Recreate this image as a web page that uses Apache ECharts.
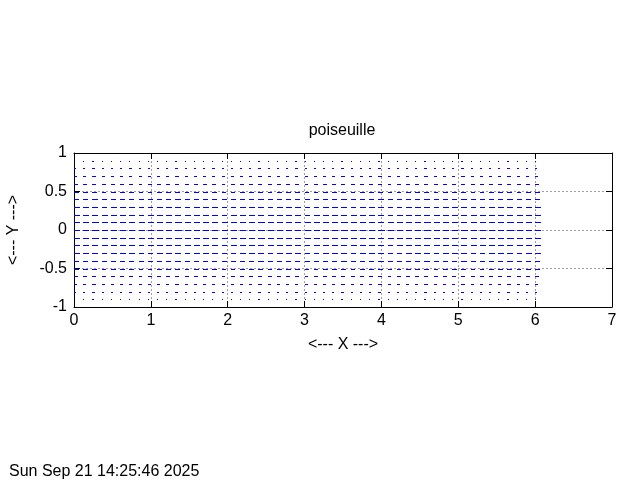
<!DOCTYPE html>
<html>
<head>
<meta charset="utf-8">
<script src="https://cdn.jsdelivr.net/npm/echarts@6/dist/echarts.min.js"></script>
<style>
html,body{margin:0;padding:0;background:#fff;}
#chart{width:640px;height:480px;}
</style>
</head>
<body>
<div id="chart"></div>
<script>
// Arrow start positions along x
var xStarts = [0, 0.12, 0.24, 0.36, 0.48, 0.6, 0.72, 0.84, 0.96, 1.08,
  1.2, 1.32, 1.44, 1.56, 1.68, 1.8, 1.92, 2.04, 2.16, 2.28,
  2.4, 2.52, 2.64, 2.76, 2.88, 3.0, 3.12, 3.24, 3.36, 3.48,
  3.6, 3.72, 3.84, 3.96, 4.08, 4.2, 4.32, 4.44, 4.56, 4.68,
  4.8, 4.92, 5.04, 5.16, 5.28, 5.4, 5.52, 5.64, 5.76, 5.88, 6.0];
// Row positions (y) and the arrow length (dx) in each row
var yRows = [-0.9, -0.8, -0.7, -0.6, -0.5, -0.4, -0.3, -0.2, -0.1, 0,
  0.1, 0.2, 0.3, 0.4, 0.5, 0.6, 0.7, 0.8, 0.9];
var dxRows = [0.015, 0.029, 0.041, 0.051, 0.06, 0.067, 0.073, 0.077, 0.079, 0.08,
  0.079, 0.077, 0.073, 0.067, 0.06, 0.051, 0.041, 0.029, 0.015];
var xTicks = [0, 1, 2, 3, 4, 5, 6, 7];
var yTicks = [-1, -0.5, 0, 0.5, 1];

var titleText = 'poiseuille';
var xName = '<--- X --->';
var yName = '<--- Y --->';
var dateText = 'Sun Sep 21 14:25:46 2025';

var data = [];
for (var r = 0; r < yRows.length; r++) {
  for (var i = 0; i < xStarts.length; i++) {
    data.push([xStarts[i], yRows[r], dxRows[r]]);
  }
}

var FONT = 'Liberation Sans, Arial, sans-serif';
var chart = echarts.init(document.getElementById('chart'), null, {renderer: 'canvas'});

var axisCommon = {
  axisLine: {show: true, onZero: false, lineStyle: {color: '#000', width: 1}},
  axisTick: {show: true, inside: true, length: 6, lineStyle: {color: '#000'}},
  splitLine: {show: false}
};

chart.setOption({
  animation: false,
  backgroundColor: '#fff',
  grid: {left: 74, right: 28, top: 153, bottom: 173, containLabel: false, outerBoundsMode: 'none'},
  graphic: [
    {type: 'text', x: 342, y: 131, style: {text: titleText, fill: '#000', font: '16px ' + FONT, textAlign: 'center', textVerticalAlign: 'middle'}},
    {type: 'text', x: 9, y: 472, style: {text: dateText, fill: '#000', font: '16px ' + FONT, textAlign: 'left', textVerticalAlign: 'middle'}}
  ],
  xAxis: [
    Object.assign({}, axisCommon, {
      type: 'value', position: 'bottom', min: xTicks[0], max: xTicks[xTicks.length - 1], interval: 1,
      name: xName, nameLocation: 'middle', nameGap: 30,
      nameTextStyle: {color: '#000', fontSize: 16, fontFamily: FONT},
      axisLabel: {color: '#000', fontSize: 16, fontFamily: FONT, margin: 6},
      splitLine: {show: true, showMinLine: false, showMaxLine: false, lineStyle: {color: '#a0a0a0', type: [2, 2], width: 1}}
    }),
    Object.assign({}, axisCommon, {
      type: 'value', position: 'top', min: xTicks[0], max: xTicks[xTicks.length - 1], interval: 1,
      axisLabel: {show: false}
    })
  ],
  yAxis: [
    Object.assign({}, axisCommon, {
      type: 'value', position: 'left', min: yTicks[0], max: yTicks[yTicks.length - 1], interval: 0.5,
      name: yName, nameLocation: 'middle', nameGap: 52, nameRotate: 90,
      nameTextStyle: {color: '#000', fontSize: 16, fontFamily: FONT},
      axisLabel: {color: '#000', fontSize: 16, fontFamily: FONT, margin: 7},
      splitLine: {show: true, showMinLine: false, showMaxLine: false, lineStyle: {color: '#a0a0a0', type: [2, 2], width: 1}}
    }),
    Object.assign({}, axisCommon, {
      type: 'value', position: 'right', min: yTicks[0], max: yTicks[yTicks.length - 1], interval: 0.5,
      axisLabel: {show: false}
    })
  ],
  series: [{
    type: 'custom',
    xAxisIndex: 0,
    yAxisIndex: 0,
    clip: true,
    data: data,
    encode: {x: 0, y: 1},
    renderItem: function (params, api) {
      var x = api.value(0), y = api.value(1), dx = api.value(2);
      var p0 = api.coord([x, y]);
      var p1 = api.coord([x + dx, y]);
      var yy = Math.round(p0[1]) + 0.5;
      var xa = Math.round(p0[0]);
      var xb = Math.max(Math.round(p1[0]), xa + 1);
      return {
        type: 'line',
        shape: {x1: xa, y1: yy, x2: xb, y2: yy},
        style: {stroke: '#0000ff', lineWidth: 1}
      };
    }
  }]
});
</script>
</body>
</html>
